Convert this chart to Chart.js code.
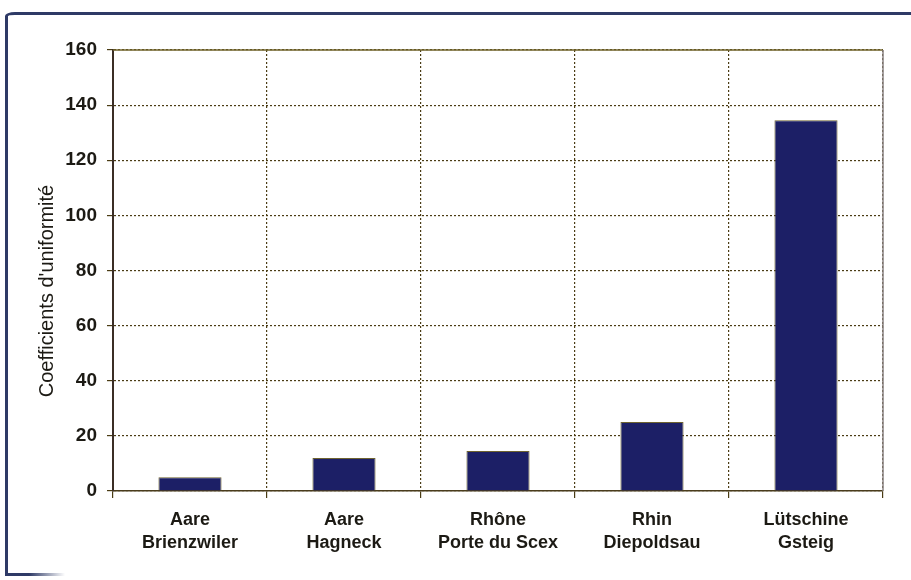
<!DOCTYPE html>
<html>
<head>
<meta charset="utf-8">
<script src="https://cdn.jsdelivr.net/npm/chart.js@4.4.1/dist/chart.umd.min.js"></script>
<style>
  html, body { margin: 0; padding: 0; background: #fff; }
  #wrap { position: relative; width: 911px; height: 580px; overflow: hidden; }
  #frame { position: absolute; left: 5px; top: 12px; width: 1000px; height: 561px;
    border-left: 3px solid #2e3a66; border-top: 3px solid #2e3a66; border-top-left-radius: 10px 4px; }
  #frameBottom { position: absolute; left: 5px; top: 573px; width: 60px; height: 3px;
    background: linear-gradient(to right, #2e3a66 40%, rgba(46,58,102,0)); }
  canvas { position: absolute; left: 0; top: 0; }
</style>
</head>
<body>
<div id="wrap">
  <div id="frame"></div>
  <div id="frameBottom"></div>
  <canvas id="barChart" width="911" height="580"></canvas>
</div>
<script>
// stations (two-line labels) and their uniformity coefficients
var stations = [
  ["Aare", "Brienzwiler"],
  ["Aare", "Hagneck"],
  ["Rhône", "Porte du Scex"],
  ["Rhin", "Diepoldsau"],
  ["Lütschine", "Gsteig"]
];
var coefficients = [5, 12, 14.5, 25, 134.5];
var yTicks = [0, 20, 40, 60, 80, 100, 120, 140, 160];
var yTitle = "Coefficients d'uniformité";

var gridColor = "#4a3c14";
var textColor = "#1c1a14";

// solid frame on top and right of the plot area + the y axis title (sits a bit below center)
var plotFrame = {
  id: "plotFrame",
  afterDatasetsDraw: function (chart) {
    var a = chart.chartArea, ctx = chart.ctx;
    ctx.save();
    ctx.lineWidth = 1.5;
    ctx.strokeStyle = "#6f6228";
    ctx.beginPath();
    ctx.moveTo(a.left, a.top);
    ctx.lineTo(a.right, a.top);
    ctx.stroke();
    ctx.strokeStyle = "#8a8282";
    ctx.beginPath();
    ctx.moveTo(a.right, a.top);
    ctx.lineTo(a.right, a.bottom);
    ctx.stroke();

    ctx.translate(47, 291);
    ctx.rotate(-Math.PI / 2);
    ctx.fillStyle = textColor;
    ctx.font = "20px 'Liberation Sans', Arial, sans-serif";
    ctx.textAlign = "center";
    ctx.textBaseline = "middle";
    ctx.fillText(yTitle, 0, 0);
    ctx.restore();
  }
};

var ctx = document.getElementById("barChart").getContext("2d");
new Chart(ctx, {
  type: "bar",
  data: {
    labels: stations,
    datasets: [{
      label: yTitle,
      data: coefficients,
      backgroundColor: "#1c1f66",
      borderColor: "#6e6330",
      borderWidth: 1,
      barPercentage: 0.41,
      categoryPercentage: 1
    }]
  },
  options: {
    responsive: false,
    animation: false,
    layout: { padding: { top: 50, right: 28, bottom: 0, left: 0 } },
    plugins: { legend: { display: false }, tooltip: { enabled: false } },
    scales: {
      x: {
        grid: { color: gridColor, lineWidth: 1.2, tickLength: 7, offset: true },
        border: { color: "#4a3c1c", width: 1.5, dash: [2, 2] },
        ticks: {
          color: textColor,
          padding: 11,
          maxRotation: 0,
          font: { family: "'Liberation Sans', Arial, sans-serif", size: 18, weight: "bold", lineHeight: 1.27 }
        },
        afterFit: function (scale) { scale.height = 89; }
      },
      y: {
        min: 0,
        max: 160,
        afterBuildTicks: function (scale) {
          scale.ticks = yTicks.map(function (v) { return { value: v }; });
        },
        grid: { color: gridColor, lineWidth: 1.2, tickLength: 6 },
        border: { color: "#3b2e25", width: 2, dash: [2, 2] },
        ticks: {
          color: textColor,
          padding: 10,
          font: { family: "'Liberation Sans', Arial, sans-serif", size: 19, weight: "bold" }
        },
        afterFit: function (scale) { scale.width = 113; }
      }
    }
  },
  plugins: [plotFrame]
});
</script>
</body>
</html>
